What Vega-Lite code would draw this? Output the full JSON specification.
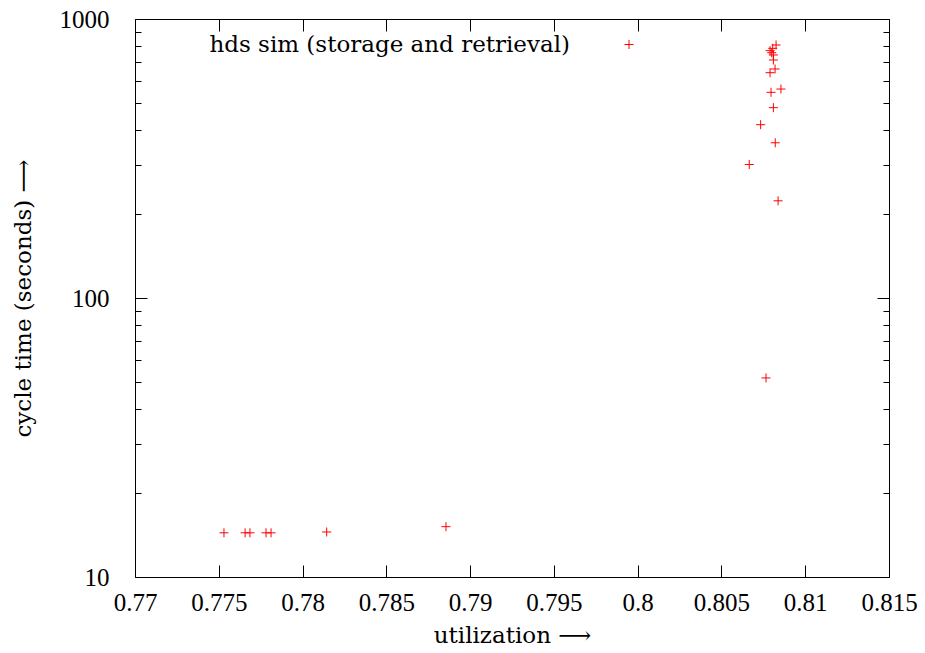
{
  "$schema": "https://vega.github.io/schema/vega-lite/v6.json",
  "width": 754,
  "height": 558,
  "autosize": "none",
  "padding": {"left": 135, "top": 19, "right": 36, "bottom": 76},
  "background": "white",
  "config": {
    "view": {"stroke": null},
    "axis": {
      "labelFont": "'Liberation Serif', 'Times New Roman', serif",
      "titleFont": "DejaVu Serif",
      "labelFontSize": 25,
      "titleFontSize": 23,
      "titleFontWeight": "normal",
      "labelColor": "black",
      "titleColor": "black",
      "domainColor": "black",
      "domainWidth": 1,
      "tickColor": "black",
      "tickWidth": 1,
      "grid": false,
      "labelOverlap": false,
      "labelFlush": false
    }
  },
  "data": {
    "values": [
      {"utilization": 0.77531, "cycle_time": 14.4, "series": "hds sim (storage and retrieval)"},
      {"utilization": 0.77657, "cycle_time": 14.4, "series": "hds sim (storage and retrieval)"},
      {"utilization": 0.77686, "cycle_time": 14.4, "series": "hds sim (storage and retrieval)"},
      {"utilization": 0.77782, "cycle_time": 14.4, "series": "hds sim (storage and retrieval)"},
      {"utilization": 0.77812, "cycle_time": 14.4, "series": "hds sim (storage and retrieval)"},
      {"utilization": 0.78144, "cycle_time": 14.5, "series": "hds sim (storage and retrieval)"},
      {"utilization": 0.78856, "cycle_time": 15.15, "series": "hds sim (storage and retrieval)"},
      {"utilization": 0.80826, "cycle_time": 807, "series": "hds sim (storage and retrieval)"},
      {"utilization": 0.80806, "cycle_time": 785, "series": "hds sim (storage and retrieval)"},
      {"utilization": 0.8079, "cycle_time": 770, "series": "hds sim (storage and retrieval)"},
      {"utilization": 0.808, "cycle_time": 757, "series": "hds sim (storage and retrieval)"},
      {"utilization": 0.8081, "cycle_time": 743, "series": "hds sim (storage and retrieval)"},
      {"utilization": 0.8081, "cycle_time": 713, "series": "hds sim (storage and retrieval)"},
      {"utilization": 0.8082, "cycle_time": 662, "series": "hds sim (storage and retrieval)"},
      {"utilization": 0.8079, "cycle_time": 642, "series": "hds sim (storage and retrieval)"},
      {"utilization": 0.80855, "cycle_time": 561, "series": "hds sim (storage and retrieval)"},
      {"utilization": 0.80796, "cycle_time": 546, "series": "hds sim (storage and retrieval)"},
      {"utilization": 0.8081, "cycle_time": 481, "series": "hds sim (storage and retrieval)"},
      {"utilization": 0.80734, "cycle_time": 418, "series": "hds sim (storage and retrieval)"},
      {"utilization": 0.80821, "cycle_time": 360, "series": "hds sim (storage and retrieval)"},
      {"utilization": 0.80666, "cycle_time": 301, "series": "hds sim (storage and retrieval)"},
      {"utilization": 0.80838, "cycle_time": 223, "series": "hds sim (storage and retrieval)"},
      {"utilization": 0.80766, "cycle_time": 51.7, "series": "hds sim (storage and retrieval)"}
    ]
  },
  "layer": [
    {
      "mark": {"type": "point", "shape": "M-1,0L1,0M0,-1L0,1", "filled": false, "size": 81, "strokeWidth": 1, "opacity": 1},
      "encoding": {
        "x": {
          "field": "utilization", "type": "quantitative",
          "scale": {"domain": [0.77, 0.815], "nice": false, "zero": false},
          "axis": {
            "orient": "bottom",
            "values": [0.77, 0.775, 0.78, 0.785, 0.79, 0.795, 0.8, 0.805, 0.81, 0.815],
            "format": ".3~f",
            "tickSize": -12,
            "labelPadding": 25,
            "title": "utilization ⟶",
            "titlePadding": 9
          }
        },
        "y": {
          "field": "cycle_time", "type": "quantitative",
          "scale": {"type": "log", "domain": [10, 1000], "nice": false},
          "axis": {
            "orient": "left",
            "values": [10, 20, 30, 40, 50, 60, 70, 80, 90, 100, 200, 300, 400, 500, 600, 700, 800, 900, 1000],
            "format": "d",
            "labelExpr": "datum.value == 10 || datum.value == 100 || datum.value == 1000 ? datum.label : ''",
            "tickSize": {"condition": {"test": "datum.value == 10 || datum.value == 100 || datum.value == 1000", "value": -12}, "value": -6},
            "labelPadding": 38,
            "title": "cycle time (seconds) ⟶",
            "titlePadding": 24
          }
        },
        "color": {
          "field": "series", "type": "nominal",
          "scale": {"range": ["#ff0000"]},
          "legend": {
            "orient": "none",
            "legendX": 482.5,
            "legendY": 14,
            "title": null,
            "padding": 0,
            "labelAlign": "right",
            "labelOffset": -70.5,
            "labelLimit": 0,
            "labelFontSize": 23,
            "labelFont": "DejaVu Serif",
            "labelColor": "black",
            "symbolType": "M-1,0L1,0M0,-1L0,1",
            "symbolSize": 81,
            "symbolStrokeWidth": 1,
            "symbolStrokeColor": "#ff0000",
            "symbolFillColor": "transparent"
          }
        }
      }
    },
    {
      "mark": {"type": "point", "opacity": 0},
      "encoding": {
        "x": {
          "field": "utilization", "type": "quantitative",
          "scale": {"domain": [0.77, 0.815], "nice": false, "zero": false},
          "axis": {
            "orient": "top",
            "values": [0.77, 0.775, 0.78, 0.785, 0.79, 0.795, 0.8, 0.805, 0.81, 0.815],
            "labels": false,
            "tickSize": -12,
            "title": null
          }
        },
        "y": {
          "field": "cycle_time", "type": "quantitative",
          "scale": {"type": "log", "domain": [10, 1000], "nice": false},
          "axis": {
            "orient": "right",
            "values": [10, 20, 30, 40, 50, 60, 70, 80, 90, 100, 200, 300, 400, 500, 600, 700, 800, 900, 1000],
            "labels": false,
            "tickSize": {"condition": {"test": "datum.value == 10 || datum.value == 100 || datum.value == 1000", "value": -12}, "value": -6},
            "title": null
          }
        }
      }
    }
  ],
  "resolve": {"axis": {"x": "independent", "y": "independent"}}
}
